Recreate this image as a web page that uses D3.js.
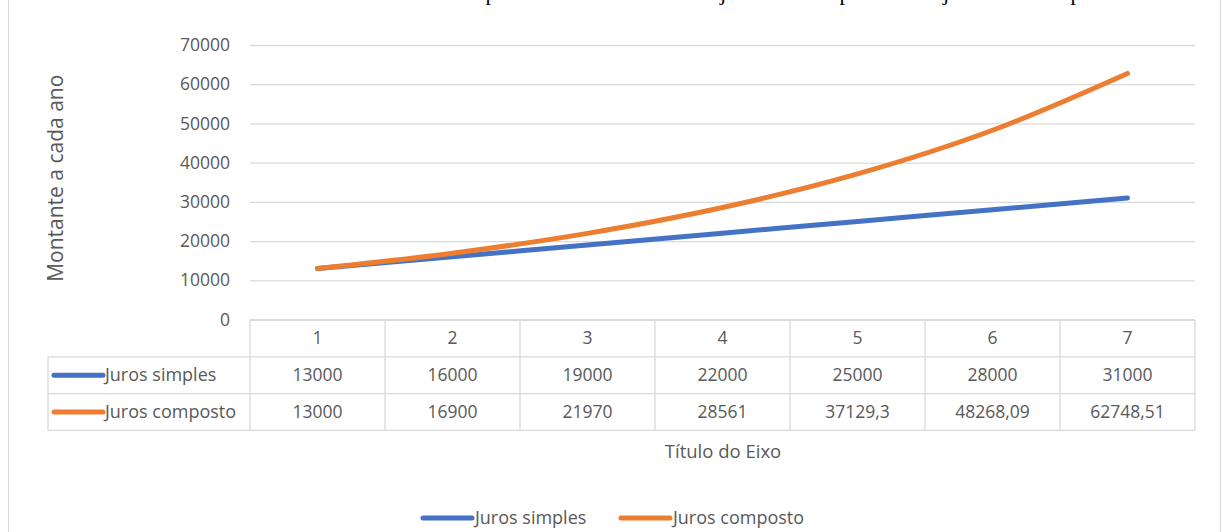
<!DOCTYPE html>
<html><head><meta charset="utf-8">
<script src="https://cdn.jsdelivr.net/npm/d3@7"></script>
<style>
body{margin:0;background:#fff;}
svg{display:block;font-family:"Open Sans","Noto Sans",sans-serif;}
</style></head>
<body>
<svg id="c" width="1222" height="532"></svg>
<script>
const categories = [1, 2, 3, 4, 5, 6, 7];
const seriesNames = ["Juros simples", "Juros composto"];
const jurosSimples = [13000, 16000, 19000, 22000, 25000, 28000, 31000];
const jurosComposto = [13000, 16900, 21970, 28561, 37129.3, 48268.09, 62748.51];
const yTicks = [0, 10000, 20000, 30000, 40000, 50000, 60000, 70000];
const yTitle = "Montante a cada ano";
const xTitle = "Título do Eixo";
const topGlyphs = ["p", "j", "p", "j", "p"];

(function () {
const colors = ["#4472C4", "#ED7D31"];
const series = [jurosSimples, jurosComposto];
const svg = d3.select("#c");
const W = 1222, H = 532;
const pLeft = 250, pRight = 1195, pTop = 45, pBottom = 319.5;
const rowH = 36.8;
const textColor = "#595959", gridColor = "#d9d9d9";
const ff = "'Open Sans','Noto Sans',sans-serif";

// outer chart border
svg.append("rect").attr("x", 8.5).attr("y", -5).attr("width", 1212).attr("height", H + 10)
  .attr("fill", "#fff").attr("stroke", "#d9d9d9").attr("stroke-width", 1);

// cut-off fragments of text above
const glyphX = [491, 723, 845, 946, 1076];
svg.selectAll("text.topg").data(topGlyphs).join("text").attr("class", "topg")
  .attr("x", (d, i) => glyphX[i]).attr("y", 0).attr("text-anchor", "middle")
  .attr("font-family", "'Liberation Serif','DejaVu Serif',serif").attr("font-size", 22)
  .attr("fill", "#000").text(d => d);

const x = d3.scaleBand().domain(categories).range([pLeft, pRight]);
const y = d3.scaleLinear().domain([0, 70000]).range([pBottom, pTop]);

// gridlines
const yAxis = d3.axisLeft(y).tickValues(yTicks).tickSize(-(pRight - pLeft)).tickPadding(20).tickFormat(d3.format("d"));
const gy = svg.append("g").attr("transform", `translate(${pLeft},0)`).call(yAxis);
gy.select(".domain").remove();
gy.selectAll(".tick line").attr("stroke", gridColor).attr("stroke-width", 1.3);
gy.selectAll(".tick text").attr("fill", textColor).attr("font-size", 17.5).attr("font-family", ff);

// y title
svg.append("text").attr("transform", `translate(63,${(pTop + pBottom) / 2 - 4}) rotate(-90)`)
  .attr("text-anchor", "middle").attr("fill", textColor).attr("font-size", 21).attr("font-family", ff).text(yTitle);

// data table
const tableTop = pBottom + 0.5;
const tg = svg.append("g").attr("stroke", gridColor).attr("stroke-width", 1.3);
const tableLeft = 48;
tg.append("line").attr("x1", pLeft).attr("x2", pRight).attr("y1", tableTop).attr("y2", tableTop);
[1, 2, 3].forEach(r => {
  tg.append("line").attr("x1", tableLeft).attr("x2", pRight)
    .attr("y1", tableTop + r * rowH).attr("y2", tableTop + r * rowH);
});
tg.append("line").attr("x1", tableLeft).attr("x2", tableLeft).attr("y1", tableTop + rowH).attr("y2", tableTop + 3 * rowH);
categories.forEach(c => {
  tg.append("line").attr("x1", x(c)).attr("x2", x(c)).attr("y1", tableTop).attr("y2", tableTop + 3 * rowH);
});
tg.append("line").attr("x1", pRight).attr("x2", pRight).attr("y1", tableTop).attr("y2", tableTop + 3 * rowH);

const fmt = v => String(v).replace(".", ",");
svg.selectAll("text.hdr").data(categories).join("text").attr("class", "hdr")
  .attr("x", d => x(d) + x.bandwidth() / 2).attr("y", tableTop + rowH / 2 + 6)
  .attr("text-anchor", "middle").attr("fill", textColor).attr("font-size", 17.5).attr("font-family", ff).text(d => d);
series.forEach((s, si) => {
  const ry = tableTop + (si + 1) * rowH + rowH / 2;
  svg.selectAll(`text.v${si}`).data(s).join("text").attr("class", `v${si}`)
    .attr("x", (d, i) => x(categories[i]) + x.bandwidth() / 2).attr("y", ry + 6)
    .attr("text-anchor", "middle").attr("fill", textColor).attr("font-size", 17.5).attr("font-family", ff).text(d => fmt(d));
  svg.append("line").attr("x1", 54).attr("x2", 103).attr("y1", ry).attr("y2", ry)
    .attr("stroke", colors[si]).attr("stroke-width", 5).attr("stroke-linecap", "round");
  svg.append("text").attr("x", 105).attr("y", ry + 6).attr("fill", textColor)
    .attr("font-size", 18).attr("font-family", ff).text(seriesNames[si]);
});

// lines
const line = d3.line().x((d, i) => x(categories[i]) + x.bandwidth() / 2).y(d => y(d)).curve(d3.curveCatmullRom.alpha(0.5));
series.forEach((s, si) => {
  svg.append("path").datum(s).attr("d", line).attr("fill", "none")
    .attr("stroke", colors[si]).attr("stroke-width", 5).attr("stroke-linecap", "round");
});

// x title
svg.append("text").attr("x", 723).attr("y", 458).attr("text-anchor", "middle")
  .attr("fill", textColor).attr("font-size", 18.5).attr("font-family", ff).text(xTitle);

// legend
const legX = [423, 621];
seriesNames.forEach((n, i) => {
  svg.append("line").attr("x1", legX[i]).attr("x2", legX[i] + 49).attr("y1", 518).attr("y2", 518)
    .attr("stroke", colors[i]).attr("stroke-width", 5).attr("stroke-linecap", "round");
  svg.append("text").attr("x", legX[i] + 52).attr("y", 524).attr("fill", textColor)
    .attr("font-size", 18).attr("font-family", ff).text(n);
});
})();
</script>
</body></html>
